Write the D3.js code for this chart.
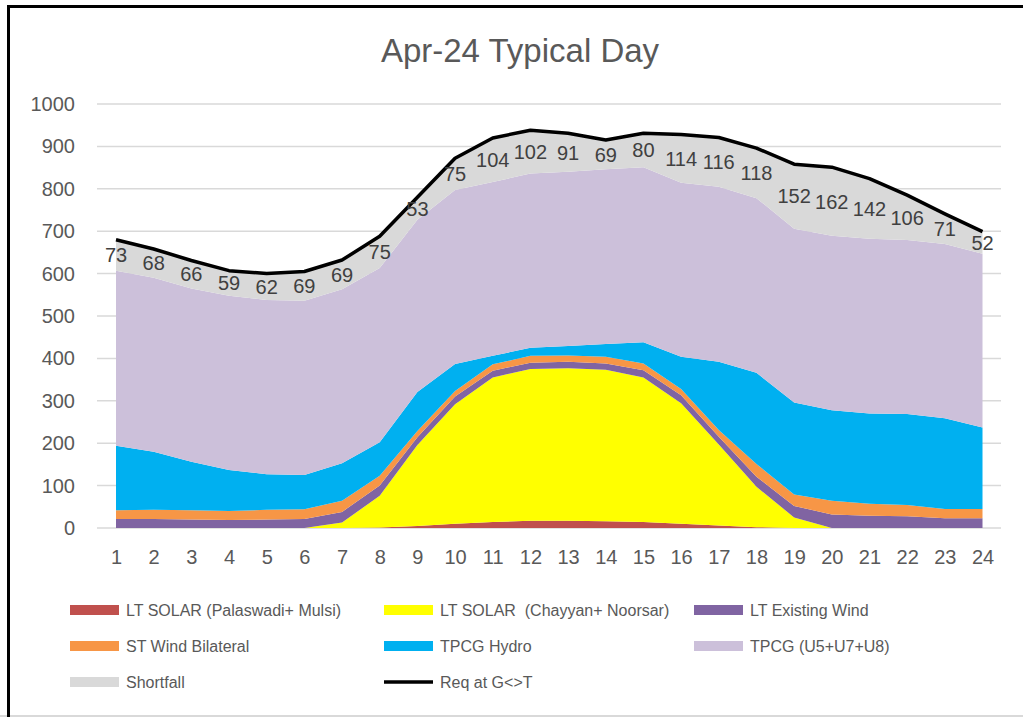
<!DOCTYPE html>
<html>
<head>
<meta charset="utf-8">
<script src="https://cdn.jsdelivr.net/npm/d3@7"></script>
<style>
  body { margin: 0; background: #fff; }
  text { font-family: "Liberation Sans", Arial, sans-serif; }
</style>
</head>
<body>
<div id="container"></div>
<script>
/* CONSTANTS AND GLOBALS */
const width = 1023;
const height = 717;

// DATA (MW per hour)
const hours = d3.range(1, 25);
const ltSolarPalaswadi = [0, 0, 0, 0, 0, 0, 0, 1, 5, 10, 14, 17, 17, 16, 14, 10, 6, 2, 0, 0, 0, 0, 0, 0];
const ltSolarChayyan = [0, 0, 0, 0, 0, 0, 13, 75, 191, 282, 341, 358, 360, 357, 341, 284, 191, 95, 25, 0, 0, 0, 0, 0];
const ltExistingWind = [21, 21, 20, 19, 20, 21, 25, 24, 18, 18, 16, 15, 15, 15, 17, 19, 18, 24, 27, 32, 29, 28, 23, 23];
const stWindBilateral = [21, 22, 22, 21, 23, 23, 26, 23, 15, 13, 15, 16, 15, 16, 16, 15, 16, 30, 27, 32, 28, 26, 22, 22];
const tpcgHydro = [152, 137, 114, 97, 84, 81, 89, 79, 92, 64, 20, 19, 22, 30, 50, 76, 161, 215, 217, 214, 213, 215, 214, 192];
const tpcgUnits = [413, 410, 409, 411, 411, 411, 410, 411, 406, 410, 410, 411, 411, 412, 413, 410, 413, 412, 410, 411, 412, 410, 411, 410];
const shortfall = [73, 68, 66, 59, 62, 69, 69, 75, 53, 75, 104, 102, 91, 69, 80, 114, 116, 118, 152, 162, 142, 106, 71, 52];
const reqAtGT = [680, 658, 631, 607, 600, 605, 632, 688, 780, 872, 920, 938, 931, 915, 931, 928, 921, 896, 858, 851, 824, 785, 741, 699];
const yTicks = [0, 100, 200, 300, 400, 500, 600, 700, 800, 900, 1000];

const series = [
  { key: "LT SOLAR (Palaswadi+ Mulsi)", values: ltSolarPalaswadi, color: "#C0504D" },
  { key: "LT SOLAR  (Chayyan+ Noorsar)", values: ltSolarChayyan, color: "#FFFF00" },
  { key: "LT Existing Wind", values: ltExistingWind, color: "#8064A2" },
  { key: "ST Wind Bilateral", values: stWindBilateral, color: "#F79646" },
  { key: "TPCG Hydro", values: tpcgHydro, color: "#00B0F0" },
  { key: "TPCG (U5+U7+U8)", values: tpcgUnits, color: "#CCC0DA" },
  { key: "Shortfall", values: shortfall, color: "#D9D9D9" }
];

// table for d3.stack
const table = hours.map((h, i) => {
  const row = { hour: h };
  series.forEach(s => row[s.key] = s.values[i]);
  return row;
});

// CREATE SVG
const svg = d3.select("#container")
  .append("svg")
  .attr("width", width)
  .attr("height", height)
  .style("display", "block");

// chart frame (cropped slide border)
svg.append("line")
  .attr("x1", 0).attr("x2", width)
  .attr("y1", 716).attr("y2", 716)
  .attr("stroke", "#d9d9d9")
  .attr("stroke-width", 2);

svg.append("path")
  .attr("d", `M8.5,${height} V6.5 H${width}`)
  .attr("fill", "none")
  .attr("stroke", "#000")
  .attr("stroke-width", 3);

/* SCALES */
const xScale = d3.scalePoint()
  .domain(hours)
  .range([116, 982.5]);

const yScale = d3.scaleLinear()
  .domain([0, 1000])
  .range([528, 104]);

// GRIDLINES
svg.append("g")
  .selectAll("line")
  .data(yTicks)
  .join("line")
  .attr("x1", 97)
  .attr("x2", 1001)
  .attr("y1", d => yScale(d))
  .attr("y2", d => yScale(d))
  .attr("stroke", "#d9d9d9")
  .attr("stroke-width", 1.5);

// STACKED AREAS
const stack = d3.stack().keys(series.map(s => s.key));
const layers = stack(table);

const area = d3.area()
  .x(d => xScale(d.data.hour))
  .y0(d => yScale(d[0]))
  .y1(d => yScale(d[1]));

svg.append("g")
  .selectAll("path")
  .data(layers)
  .join("path")
  .attr("d", area)
  .attr("fill", (d, i) => series[i].color);

// REQ LINE
const line = d3.line()
  .x((d, i) => xScale(hours[i]))
  .y(d => yScale(d));

svg.append("path")
  .datum(reqAtGT)
  .attr("d", line)
  .attr("fill", "none")
  .attr("stroke", "#000")
  .attr("stroke-width", 3.5)
  .attr("stroke-linejoin", "round");

// SHORTFALL LABELS (middle of the shortfall band)
const topLayer = layers[layers.length - 1];
svg.append("g")
  .selectAll("text")
  .data(topLayer)
  .join("text")
  .attr("x", d => xScale(d.data.hour))
  .attr("y", d => (yScale(d[0]) + yScale(d[1])) / 2)
  .attr("text-anchor", "middle")
  .attr("dominant-baseline", "central")
  .attr("fill", "#404040")
  .style("font-size", "20px")
  .text(d => d.data["Shortfall"]);

// AXES
const xAxis = d3.axisBottom(xScale).tickSize(0).tickPadding(22);
const yAxis = d3.axisLeft(yScale).tickValues(yTicks).tickFormat(d3.format("d")).tickSize(0).tickPadding(22);

const gx = svg.append("g")
  .attr("transform", "translate(0," + yScale(0) + ")")
  .call(xAxis);
gx.select(".domain").remove();
gx.selectAll("text")
  .attr("fill", "#595959")
  .style("font-size", "20px")
  .style("font-family", "Liberation Sans, Arial, sans-serif");

const gy = svg.append("g")
  .attr("transform", "translate(97,0)")
  .call(yAxis);
gy.select(".domain").remove();
gy.selectAll("text")
  .attr("fill", "#595959")
  .style("font-size", "20px")
  .style("font-family", "Liberation Sans, Arial, sans-serif");

// TITLE
svg.append("text")
  .attr("x", 520)
  .attr("y", 62)
  .attr("text-anchor", "middle")
  .attr("fill", "#595959")
  .style("font-size", "33px")
  .text("Apr-24 Typical Day");

// LEGEND
const legendItems = series.map(s => ({ key: s.key, color: s.color, type: "rect" }));
legendItems.push({ key: "Req at G<>T", color: "#000", type: "line" });

const legendCols = [70, 384, 694];
const legendRows = [610, 646, 682];

const legend = svg.append("g")
  .selectAll("g")
  .data(legendItems)
  .join("g")
  .attr("transform", (d, i) => `translate(${legendCols[i % 3]},${legendRows[Math.floor(i / 3)]})`);

legend.filter(d => d.type === "rect")
  .append("rect")
  .attr("x", 0)
  .attr("y", -5)
  .attr("width", 49)
  .attr("height", 10)
  .attr("fill", d => d.color);

legend.filter(d => d.type === "line")
  .append("line")
  .attr("x1", 0).attr("x2", 49)
  .attr("y1", 0).attr("y2", 0)
  .attr("stroke", d => d.color)
  .attr("stroke-width", 3.5);

legend.append("text")
  .attr("x", 56)
  .attr("y", 0)
  .attr("dominant-baseline", "central")
  .attr("fill", "#595959")
  .style("font-size", "16px")
  .style("white-space", "pre")
  .text(d => d.key);
</script>
</body>
</html>
